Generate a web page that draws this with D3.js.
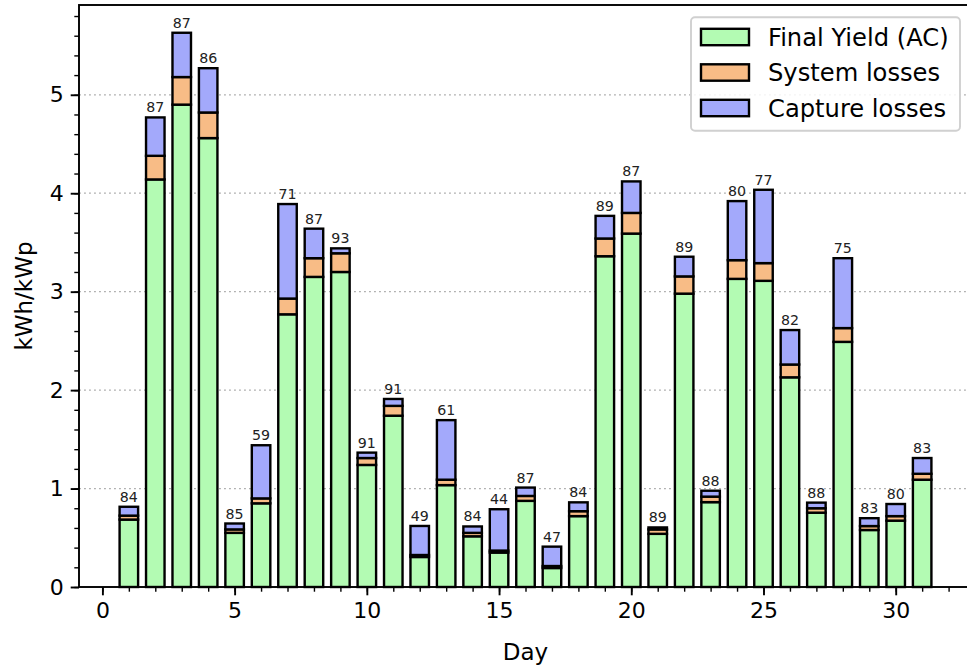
<!DOCTYPE html>
<html>
<head>
<meta charset="utf-8">
<script src="https://cdn.jsdelivr.net/npm/d3@7"></script>
<style>
  html, body { margin: 0; padding: 0; background: #fff; }
  svg { display: block; font-family: "DejaVu Sans", sans-serif; }
</style>
</head>
<body>
<svg id="chart" width="967" height="668"></svg>
<script>
// Daily PV performance: final yield plus stacked loss components (kWh/kWp)
const days = d3.range(1, 32);
const finalYield = [0.685, 4.14, 4.90, 4.56, 0.55, 0.85, 2.77, 3.15, 3.20, 1.24,
                    1.74, 0.305, 1.035, 0.515, 0.35, 0.875, 0.193, 0.72, 3.36, 3.59,
                    0.54, 2.98, 0.862, 3.13, 3.11, 2.13, 0.755, 2.49, 0.579, 0.674, 1.09];
const systemLosses = [0.04, 0.24, 0.28, 0.26, 0.035, 0.05, 0.16, 0.19, 0.19, 0.07,
                      0.10, 0.02, 0.055, 0.035, 0.02, 0.05, 0.02, 0.05, 0.18, 0.21,
                      0.045, 0.175, 0.056, 0.19, 0.18, 0.13, 0.045, 0.14, 0.04, 0.046, 0.06];
const captureLosses = [0.09, 0.39, 0.45, 0.45, 0.06, 0.54, 0.96, 0.30, 0.05, 0.055,
                       0.07, 0.295, 0.605, 0.065, 0.42, 0.085, 0.197, 0.09, 0.23, 0.32,
                       0.02, 0.20, 0.06, 0.60, 0.745, 0.35, 0.057, 0.71, 0.08, 0.123, 0.16];
// Performance ratio (%) printed above each bar
const prLabels = [84, 87, 87, 86, 85, 59, 71, 87, 93, 91, 91, 49, 61, 84, 44, 87, 47, 84,
                  89, 87, 89, 89, 88, 80, 77, 82, 88, 75, 83, 80, 83];
const seriesNames = ["Final Yield (AC)", "System losses", "Capture losses"];
const seriesColors = ["#b3fbb3", "#f8bc86", "#a3a9fb"];
const xTicks = [0, 5, 10, 15, 20, 25, 30];
const yTicks = [0, 1, 2, 3, 4, 5];

const svg = d3.select("#chart");
const plot = { left: 79, right: 972, top: 5, bottom: 587 };
const barWidth = 0.7;

const x = d3.scaleLinear().domain([-0.885, 32.885]).range([plot.left, plot.right]);
const y = d3.scaleLinear().domain([0, 5.912]).range([plot.bottom, plot.top]);

// stacked data
const rows = days.map((d, i) => ({
  day: d, fy: finalYield[i], sl: systemLosses[i], cl: captureLosses[i], pr: prLabels[i]
}));
const stack = d3.stack().keys(["fy", "sl", "cl"])(rows);

// horizontal dotted grid at major y ticks
svg.append("g").selectAll("line")
  .data(yTicks.filter(v => v > 0))
  .join("line")
  .attr("x1", plot.left).attr("x2", plot.right)
  .attr("y1", d => y(d)).attr("y2", d => y(d))
  .attr("stroke", "#b0b0b0").attr("stroke-width", 1.3)
  .attr("stroke-dasharray", "1.9,3.1");

// bars
const bw = x(barWidth) - x(0);
svg.append("g").selectAll("g")
  .data(stack)
  .join("g")
  .attr("fill", (d, i) => seriesColors[i])
  .selectAll("rect")
  .data(d => d)
  .join("rect")
  .attr("x", d => x(d.data.day) - bw / 2)
  .attr("width", bw)
  .attr("y", d => y(d[1]))
  .attr("height", d => y(d[0]) - y(d[1]))
  .attr("stroke", "#000")
  .attr("stroke-width", 2.4);

// performance ratio labels
svg.append("g").selectAll("text")
  .data(rows)
  .join("text")
  .attr("x", d => x(d.day))
  .attr("y", d => y(d.fy + d.sl + d.cl) - 5)
  .attr("text-anchor", "middle")
  .attr("font-size", 14.2)
  .attr("fill", "#222")
  .text(d => d.pr);

// axes
const xAxis = d3.axisBottom(x).tickValues(xTicks).tickSize(8.3).tickPadding(7).tickFormat(d3.format("d"));
const xMinor = d3.axisBottom(x).tickValues(d3.range(0, 33)).tickSize(4.7).tickFormat("");
const yAxis = d3.axisLeft(y).tickValues(yTicks).tickSize(8.3).tickPadding(7).tickFormat(d3.format("d"));
const yMinor = d3.axisLeft(y).tickValues(d3.range(0, 5.81, 0.2)).tickSize(4.7).tickFormat("");

function styleAxis(g, fs) {
  g.select(".domain").remove();
  g.selectAll("line").attr("stroke", "#000");
  g.selectAll("text").attr("font-size", fs).attr("fill", "#000")
    .attr("font-family", "DejaVu Sans, sans-serif");
}

svg.append("g").attr("transform", `translate(0,${plot.bottom})`).call(xMinor)
  .call(g => { styleAxis(g, 0); g.selectAll("line").attr("stroke-width", 1.4); });
svg.append("g").attr("transform", `translate(0,${plot.bottom})`).call(xAxis)
  .call(g => { styleAxis(g, 22); g.selectAll("line").attr("stroke-width", 1.9); });
svg.append("g").attr("transform", `translate(${plot.left},0)`).call(yMinor)
  .call(g => { styleAxis(g, 0); g.selectAll("line").attr("stroke-width", 1.4); });
svg.append("g").attr("transform", `translate(${plot.left},0)`).call(yAxis)
  .call(g => { styleAxis(g, 22); g.selectAll("line").attr("stroke-width", 1.9); });

// frame
svg.append("rect")
  .attr("x", plot.left).attr("y", plot.top)
  .attr("width", plot.right - plot.left).attr("height", plot.bottom - plot.top)
  .attr("fill", "none").attr("stroke", "#000").attr("stroke-width", 1.9);

// axis titles
svg.append("text")
  .attr("x", (plot.left + plot.right) / 2).attr("y", 660)
  .attr("text-anchor", "middle").attr("font-size", 23).text("Day");
svg.append("text")
  .attr("transform", `translate(32,${(plot.top + plot.bottom) / 2}) rotate(-90)`)
  .attr("text-anchor", "middle").attr("font-size", 23).text("kWh/kWp");

// legend
const lg = svg.append("g").attr("transform", "translate(691,17.3)");
lg.append("rect").attr("width", 269).attr("height", 113.4).attr("rx", 4)
  .attr("fill", "rgba(255,255,255,0.85)").attr("stroke", "#d0d0d0").attr("stroke-width", 1.9);
const items = lg.selectAll("g.item").data(seriesNames).join("g")
  .attr("transform", (d, i) => `translate(0,${19.7 + i * 35.5})`);
items.append("rect").attr("x", 10).attr("y", -8.2).attr("width", 48).attr("height", 16.4)
  .attr("fill", (d, i) => seriesColors[i]).attr("stroke", "#000").attr("stroke-width", 2.4);
items.append("text").attr("x", 77).attr("y", 8.5).attr("font-size", 24.2).attr("fill", "#000").text(d => d);
</script>
</body>
</html>
